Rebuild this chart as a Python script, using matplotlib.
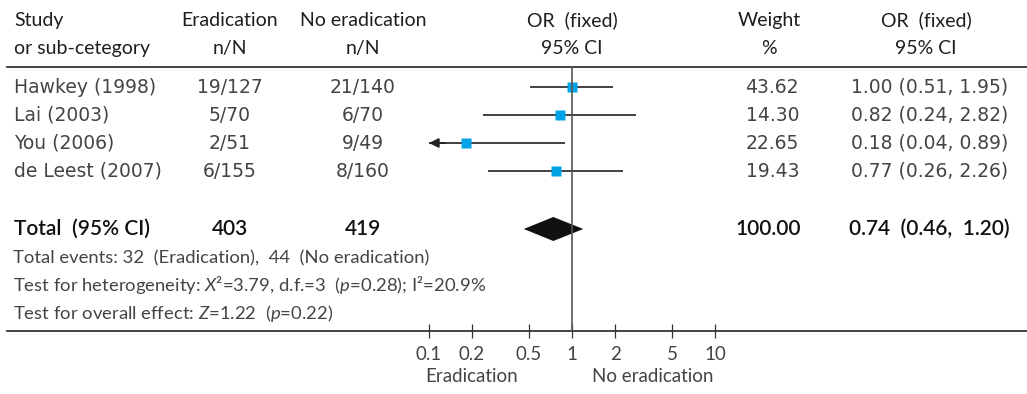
import numpy as np
import matplotlib.pyplot as plt

plt.rcParams['font.family'] = ['Lato', 'DejaVu Sans']
plt.rcParams['mathtext.fontset'] = 'custom'
plt.rcParams['mathtext.it'] = 'Lato:italic'
plt.rcParams['mathtext.rm'] = 'Lato'

# data
studies = ["Hawkey (1998)", "Lai (2003)", "You (2006)", "de Leest (2007)"]
erad_nN = ["19/127", "5/70", "2/51", "6/155"]
noerad_nN = ["21/140", "6/70", "9/49", "8/160"]
or_est = [1.00, 0.82, 0.18, 0.77]
ci_lo = [0.51, 0.24, 0.04, 0.26]
ci_hi = [1.95, 2.82, 0.89, 2.26]
weights = [43.62, 14.30, 22.65, 19.43]
total_n = [403, 419]
total_or, total_lo, total_hi = 0.74, 0.46, 1.20
total_weight = 100.00
ticks = [0.1, 0.2, 0.5, 1, 2, 5, 10]
tick_labels = ["0.1", "0.2", "0.5", "1", "2", "5", "10"]
footer = ["Total events: 32  (Eradication),  44  (No eradication)",
          r"Test for heterogeneity: $X$²=3.79, d.f.=3  ($p$=0.28); I²=20.9%",
          r"Test for overall effect: $Z$=1.22  ($p$=0.22)"]

# layout in pixels
W, H = 1027, 394
hdr_y = [20, 48]
hline_y = 67
row_y = [87, 115, 143, 171]
total_y = 229
foot_y = [258, 285, 313]
axis_y = 331
x0_px, x1_px = 429, 715   # positions of 0.1 and 10

dark = '#1e1e1e'
grey = '#444444'
fs = 14
row_font = 'DejaVu Sans'

fig = plt.figure(figsize=(W / 100, H / 100), dpi=100)
ax = fig.add_axes([0, 0, 1, 1])
ax.set_xlim(0, W)
ax.set_ylim(H, 0)
ax.axis('off')

fa = fig.add_axes([x0_px / W, (H - axis_y) / H, (x1_px - x0_px) / W, axis_y / H])
fa.set_xscale('log')
fa.set_xlim(0.1, 10)
fa.set_ylim(axis_y, 0)
fa.patch.set_alpha(0)
for s in fa.spines.values():
    s.set_visible(False)
fa.set_yticks([])
fa.set_xticks(ticks)
fa.set_xticklabels(tick_labels)
fa.minorticks_off()
fa.tick_params(axis='x', direction='inout', length=10, width=0.9, color='#333',
               pad=6, labelsize=13.5, labelcolor=grey)

def txt(x, y, s, ha='left', color=grey, weight='normal', size=fs, family=None):
    ax.text(x, y, s, ha=ha, va='center', color=color, fontsize=size,
            fontweight=weight, family=family)

# header
headers = [("Study", "Eradication", "No eradication", "OR  (fixed)", "Weight", "OR  (fixed)"),
           ("or sub-cetegory", "n/N", "n/N", "95% CI", "%", "95% CI")]
for y, (a, b, c, d, e, f) in zip(hdr_y, headers):
    txt(14, y, a, color=dark)
    txt(230, y, b, 'center', dark)
    txt(363, y, c, 'center', dark)
    txt(572, y, d, 'center', dark)
    txt(769, y, e, 'center', dark)
    txt(926, y, f, 'center', dark)

ax.plot([7, W], [hline_y, hline_y], color='#222', lw=1.2)
ax.plot([7, W], [axis_y, axis_y], color='#222', lw=1.2)

# study rows
for i, y in enumerate(row_y):
    txt(14, y, studies[i], size=13.5, family=row_font)
    txt(230, y, erad_nN[i], 'center', size=13.5, family=row_font)
    txt(363, y, noerad_nN[i], 'center', size=13.5, family=row_font)
    txt(799, y, f"{weights[i]:.2f}", 'right', size=13.5, family=row_font)
    txt(1008, y, f"{or_est[i]:.2f} ({ci_lo[i]:.2f}, {ci_hi[i]:.2f})", 'right',
        size=13.5, family=row_font)
    lo = max(ci_lo[i], 0.1)
    fa.plot([lo, ci_hi[i]], [y, y], color='#333', lw=1.3, solid_capstyle='butt')
    if ci_lo[i] < 0.1:
        fa.annotate('', xy=(0.1, y), xytext=(0.13, y),
                    arrowprops=dict(arrowstyle='-|>', color='#222', lw=1.3,
                                    mutation_scale=14, shrinkA=0, shrinkB=0))
    fa.plot(or_est[i], y, 's', ms=7, color='#00a3e6', mec='none')

# total row
tot = dict(color='#111', weight='semibold', size=15)
txt(14, total_y, "Total  (95% CI)", **tot)
txt(230, total_y, str(total_n[0]), 'center', **tot)
txt(363, total_y, str(total_n[1]), 'center', **tot)
txt(801, total_y, f"{total_weight:.2f}", 'right', **tot)
txt(1010, total_y, f"{total_or:.2f}  ({total_lo:.2f},  {total_hi:.2f})", 'right', **tot)
fa.fill([total_lo, total_or, total_hi, total_or],
        [total_y, total_y - 12, total_y, total_y + 12], color='#111', lw=0)

for y, s in zip(foot_y, footer):
    txt(13, y, s, size=13.3)

# line of no effect
fa.plot([1, 1], [hline_y, axis_y], color='#555', lw=1.2)

txt(472, 377, "Eradication", 'center', size=13.5)
txt(653, 377, "No eradication", 'center', size=13.5)

fig.savefig('out.png', dpi=100)
